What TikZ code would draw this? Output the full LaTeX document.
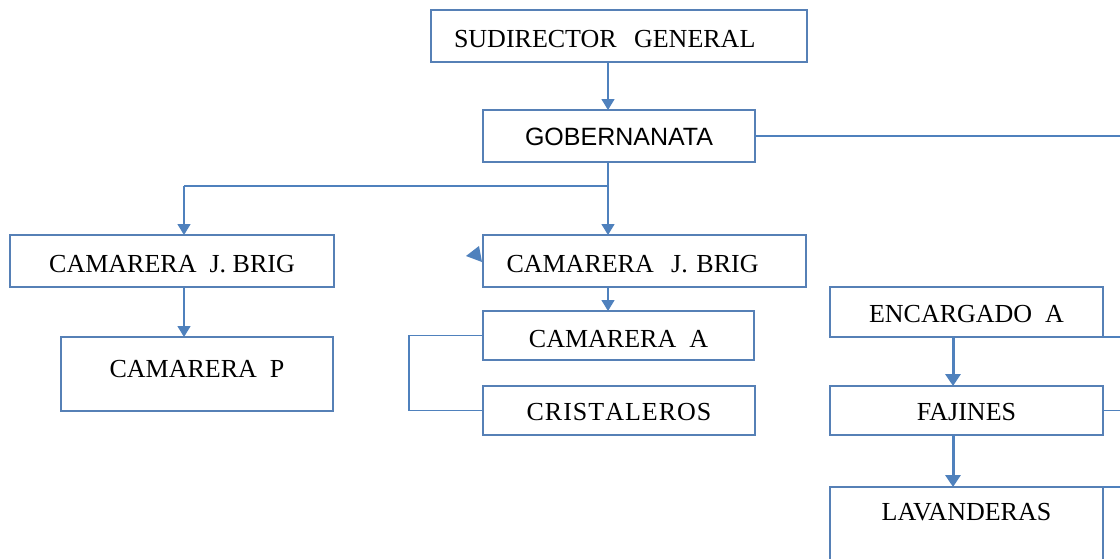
\documentclass[tikz,border=0pt]{standalone}
\usepackage{fontspec}
\setmainfont{Liberation Serif}
\newfontfamily\sansf{Liberation Sans}
\usetikzlibrary{arrows.meta}
\definecolor{boxc}{RGB}{86,128,182}
\definecolor{linec}{RGB}{79,129,189}
\tikzset{
  box/.style={draw=boxc, line width=2.6pt, inner sep=0pt, outer sep=0pt, fill=white,
    font=\fontsize{26}{28}\selectfont, anchor=north west},
  conn/.style={draw=linec, line width=1.4pt},
  arr/.style={conn, -{Triangle[width=13pt,length=11pt]}},
  thickarr/.style={draw=linec, line width=3pt, -{Triangle[width=15pt,length=12pt]}},
}
\begin{document}
\begin{tikzpicture}[x=1pt,y=-1pt]
\useasboundingbox[fill=white] (0,0) rectangle (1120,558);

% boxes (top-left corner, width, text height above baseline / depth below)
\node[box, text width=330pt, align=left, inner xsep=23pt, text height=37pt, text depth=15pt]
  (sud) at (431,10) {SUDIRECTOR\ \ GENERAL};
\node[box, minimum width=272pt, text height=35pt, text depth=17pt, font=\sansf\fontsize{25}{28}\selectfont]
  (gob) at (483,110) {GOBERNANATA};
\node[box, minimum width=324pt, text height=37pt, text depth=15pt]
  (cjb1) at (10,235) {CAMARERA\ \ J. BRIG};
\node[box, minimum width=272pt, text height=40pt, text depth=34pt]
  (camp) at (61,337) {CAMARERA\ \ P};
\node[box, text width=276pt, align=left, inner xsep=23.5pt, text height=37pt, text depth=15pt]
  (mcjb) at (483,235) {CAMARERA\ \ J. BRIG};
\node[box, minimum width=271pt, text height=36pt, text depth=13pt]
  (cama) at (483,311) {CAMARERA\ \ A};
\node[box, minimum width=272pt, text height=34pt, text depth=15pt]
  (crist) at (483,386) {C{\kern1pt}R{\kern1pt}I{\kern1pt}S{\kern1pt}T{\kern1pt}A{\kern1pt}L{\kern1pt}E{\kern1pt}R{\kern1pt}O{\kern1pt}S};
\node[box, minimum width=273pt, text height=35pt, text depth=15pt]
  (enc) at (830,287) {ENCARGADO\ \ A};
\node[box, minimum width=273pt, text height=34pt, text depth=15pt]
  (faj) at (830,386) {FAJINES};
\node[box, minimum width=273pt, text height=33pt, text depth=50pt]
  (lav) at (830,487) {LAVANDERAS};

% helper coordinates
\coordinate (trunk) at (608,186);
\coordinate (lb) at (184,186);
\coordinate (rx) at (953,0);
\coordinate (e1) at (1126,136);
\coordinate (e2) at (1126,337);
\coordinate (e3) at (1126,410.5);
\coordinate (e4) at (1126,487);

% connectors
\draw[arr] (sud.south -| trunk) -- (gob.north -| trunk);
\draw[conn] (gob.south -| trunk) -- (trunk) -- (lb);
\draw[arr] (lb) -- (cjb1.north -| lb);
\draw[arr] (trunk) -- (mcjb.north -| trunk);
\draw[arr] (cjb1.south -| lb) -- (camp.north -| lb);
\draw[arr] (mcjb.south -| trunk) -- (cama.north -| trunk);
\draw[conn] (cama.west) -- ++(-74,0) |- (crist.west);
\draw[conn] (gob.east) -- (e1);
\draw[conn] (enc.south east) -- (e2);
\draw[conn] (faj.east) -- (e3);
\draw[conn] (lav.north east) -- (e4);
\draw[thickarr] (enc.south -| rx) -- (faj.north -| rx);
\draw[thickarr] (faj.south -| rx) -- (lav.north -| rx);

% stray arrowhead left of the middle box
\fill[linec] (479,246) -- (466,256) -- (482,262) -- cycle;
\end{tikzpicture}
\end{document}
